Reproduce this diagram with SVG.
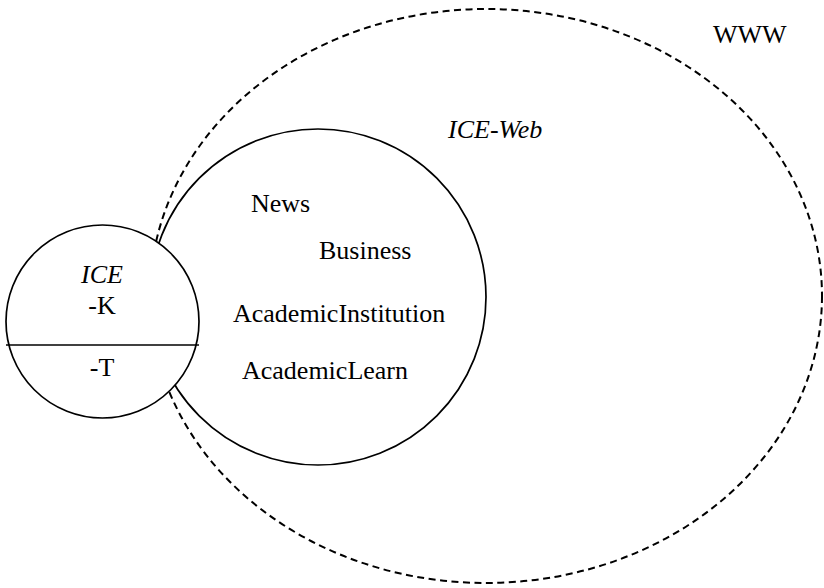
<svg xmlns="http://www.w3.org/2000/svg" width="824" height="588" viewBox="0 0 824 588">
<style>
.t{font-family:"Liberation Serif","Times New Roman",serif;font-size:26px;fill:#000}
.i{font-style:italic}
.c{fill:#fff;stroke:#000;stroke-width:1.7}
.d{fill:none;stroke:#000;stroke-width:2;stroke-dasharray:7 4.5}
</style>
<rect width="824" height="588" fill="#fff"/>
<g id="www">
<ellipse class="d" cx="486" cy="296" rx="336" ry="287"/>
<text class="t" x="713" y="43">WWW</text>
</g>
<g id="ice-web">
<circle class="c" cx="318" cy="297" r="168"/>
<text class="t i" x="448" y="138">ICE-Web</text>
<text class="t" x="251" y="212">News</text>
<text class="t" x="319" y="259">Business</text>
<text class="t" x="233" y="322">AcademicInstitution</text>
<text class="t" x="242" y="379">AcademicLearn</text>
</g>
<g id="ice">
<circle class="c" cx="102.5" cy="321.5" r="96.5"/>
<line x1="6" y1="345" x2="199" y2="345" stroke="#000" stroke-width="1.7"/>
<text class="t i" x="102" y="283" text-anchor="middle">ICE</text>
<text class="t" x="102" y="314" text-anchor="middle">-K</text>
<text class="t" x="102" y="376" text-anchor="middle">-T</text>
</g>
<g id="connectors"></g>
</svg>
